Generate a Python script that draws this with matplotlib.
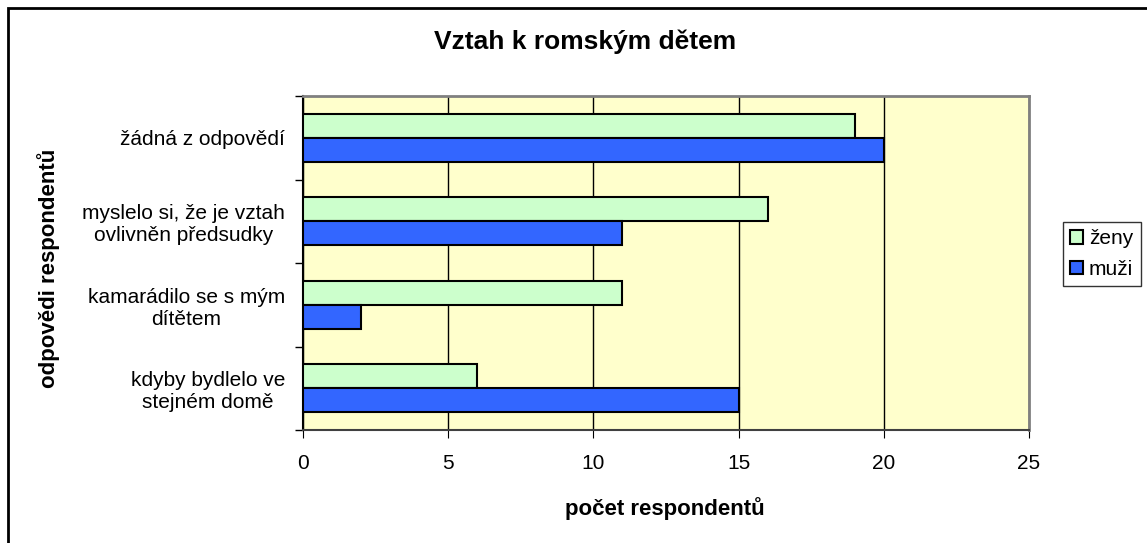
import numpy as np
import matplotlib
matplotlib.use("Agg")
import matplotlib.pyplot as plt
from matplotlib.patches import Rectangle

plt.rcParams['font.family'] = ['Liberation Sans', 'DejaVu Sans']

categories = ["žádná z odpovědí",
              "myslelo si, že je vztah\novlivněn předsudky",
              "kamarádilo se s mým\ndítětem",
              "kdyby bydlelo ve\nstejném domě"]
zeny = [19, 16, 11, 6]
muzi = [20, 11, 2, 15]
xticks = [0, 5, 10, 15, 20, 25]

fig = plt.figure(figsize=(11.47, 5.43), dpi=100)
ax = fig.add_axes([0.2642, 0.2081, 0.8971 - 0.2642, 0.8232 - 0.2081])

# outer frame of the chart
fig.patches.append(Rectangle((8 / 1147, -0.05), 1.1, 1 - 8 / 543 + 0.05,
                             transform=fig.transFigure, fill=False,
                             edgecolor='black', linewidth=2))

n = len(categories)
pos = np.arange(n)[::-1] + 0.5  # top category first
h = 0.287
ax.barh(pos + h / 2, zeny, height=h, color='#CCFFCC', edgecolor='black',
        linewidth=1.5, label='ženy', zorder=3)
ax.barh(pos - h / 2, muzi, height=h, color='#3366FF', edgecolor='black',
        linewidth=1.5, label='muži', zorder=3)

ax.set_facecolor('#FFFFCC')
ax.set_xlim(0, 25)
ax.set_ylim(0, n)
ax.set_xticks(xticks)
ax.set_xticklabels([str(v) for v in xticks], fontsize=15)
ax.xaxis.grid(True, color='black', linewidth=1, zorder=1)
ax.set_axisbelow(True)

ax.set_yticks(np.arange(n + 1), minor=False)
ax.set_yticklabels([])
ax.set_yticks(pos, minor=True)
ax.set_yticklabels(categories, minor=True, fontsize=15, multialignment='center')
ax.tick_params(axis='y', which='minor', length=0, pad=13)
ax.tick_params(axis='y', which='major', length=6, direction='out', width=1)
ax.tick_params(axis='x', length=6, direction='out', pad=11)

for s in ['top', 'right']:
    ax.spines[s].set_color('#808080')
    ax.spines[s].set_linewidth(2)
ax.spines['left'].set_color('black')
ax.spines['left'].set_linewidth(1.5)
ax.spines['bottom'].set_color('#404040')
ax.spines['bottom'].set_linewidth(1.5)

fig.text(0.51, 0.923, "Vztah k romským dětem", ha='center', va='center',
         fontsize=19, fontweight='bold')
fig.text(0.58, 0.064, "počet respondentů", ha='center', va='center',
         fontsize=16, fontweight='bold')
fig.text(0.042, 0.505, "odpovědi respondentů", ha='center', va='center',
         rotation=90, fontsize=16, fontweight='bold')

leg = fig.legend(loc='upper left', bbox_to_anchor=(1063 / 1147, 1 - 222 / 543),
                 fontsize=15, frameon=True, fancybox=False, handlelength=0.6,
                 handleheight=0.6, handletextpad=0.3, borderpad=0.35,
                 labelspacing=0.55, borderaxespad=0)
leg.get_frame().set_edgecolor('black')
leg.get_frame().set_linewidth(1)

fig.savefig("out.png", dpi=100)
